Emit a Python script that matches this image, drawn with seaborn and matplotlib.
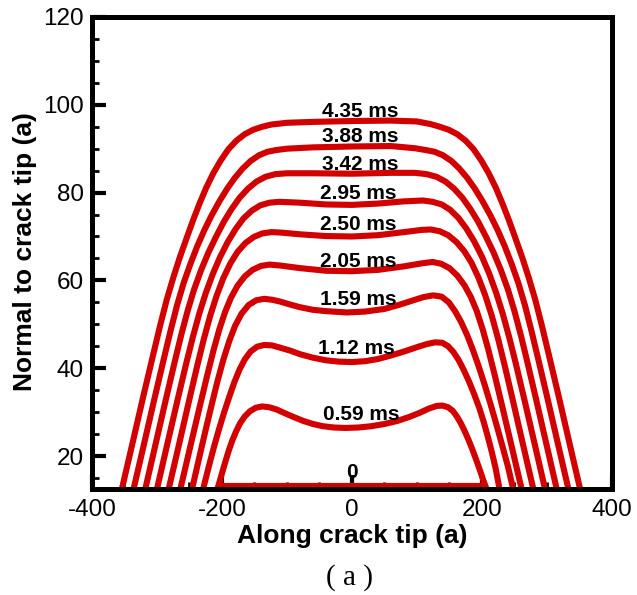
import matplotlib
matplotlib.use("Agg")
import matplotlib.pyplot as plt
from matplotlib.ticker import MultipleLocator, FixedLocator
import seaborn as sns

sns.set_theme(style="white")
plt.rcParams["font.family"] = ["Liberation Sans", "DejaVu Sans"]
plt.rcParams["text.color"] = "black"
plt.rcParams["axes.labelcolor"] = "black"

RED = "#d20000"

# Front position at each time: along crack tip (x) vs normal to crack tip (y), in units of a
x_000 = [-200, 200]
y_000 = [13.5, 13.5]

x_059 = [-207, -203, -199, -194, -189, -184, -178, -172, -165, -157, -148, -138, -127, -116,
         -104, -90, -75, -60, -45, -28, -10, 10, 30, 50, 70, 88, 105, 118, 130, 139, 148,
         155, 161, 167, 173, 179, 185, 191, 197, 202, 207]
y_059 = [12.5, 14.5, 16.6, 19.1, 21.5, 23.6, 25.7, 27.5, 29.0, 30.2, 31.0, 31.3, 31.1, 30.6,
         29.8, 28.9, 28.0, 27.3, 26.8, 26.5, 26.4, 26.5, 26.8, 27.3, 28.0, 28.9, 29.9, 30.8,
         31.4, 31.5, 31.1, 30.3, 29.1, 27.6, 25.8, 23.8, 21.6, 19.2, 16.7, 14.5, 12.5]

x_112 = [-229, -221, -213, -205, -197, -189, -181, -173, -165, -156, -146, -135, -123, -111,
         -95, -80, -60, -40, -20, 0, 20, 40, 60, 80, 100, 115, 128, 139, 148, 156, 164, 172,
         180, 188, 196, 203, 209, 215, 221, 227]
y_112 = [12.5, 17.2, 21.7, 25.9, 29.8, 33.4, 36.8, 39.7, 42.0, 43.8, 44.9, 45.3, 45.2, 44.7,
         44.0, 43.2, 42.4, 41.8, 41.5, 41.4, 41.6, 42.1, 42.9, 43.8, 44.8, 45.5, 45.9, 45.8,
         45.0, 43.7, 41.9, 39.6, 37.0, 34.1, 30.9, 27.6, 24.4, 21.0, 17.2, 12.5]

x_159 = [-246, -236, -226, -216, -207, -198, -189, -180, -170, -159, -147, -135, -123, -111,
         -95, -80, -60, -40, -8, 20, 50, 74, 95, 110, 125, 138, 149, 159, 168, 177, 186, 195,
         204, 213, 222, 231, 240, 248]
y_159 = [12.5, 19.0, 25.4, 31.6, 37.0, 41.9, 46.1, 49.6, 52.4, 54.4, 55.5, 55.8, 55.6, 55.2,
         54.5, 53.9, 53.3, 53.0, 52.7, 52.9, 53.5, 54.5, 55.5, 56.2, 56.6, 56.3, 55.0, 52.9,
         50.5, 47.6, 44.2, 40.4, 36.3, 31.9, 27.3, 22.5, 17.6, 12.5]

x_205 = [-264, -249, -235, -223, -213, -204, -195, -186, -176, -165, -153, -140, -127, -111,
         -80, -40, 0, 40, 80, 108, 124, 137, 150, 162, 173, 183, 192, 201, 210, 220, 232,
         246, 261]
y_205 = [12.5, 22.0, 30.8, 38.2, 44.1, 48.9, 52.9, 56.1, 58.8, 60.9, 62.4, 63.3, 63.6, 63.4,
         62.8, 62.2, 62.1, 62.4, 63.2, 63.9, 64.2, 63.8, 62.8, 61.1, 58.9, 56.2, 53.0, 48.9,
         44.1, 38.2, 30.8, 22.0, 12.5]

x_250 = [-282, -266, -250, -238, -228, -218, -208, -198, -187, -176, -164, -151, -138, -124,
         -110, -80, -40, 0, 40, 80, 107, 121, 135, 148, 161, 173, 184, 195, 205, 215, 225,
         235, 247, 263, 279]
y_250 = [12.5, 22.7, 33.0, 40.6, 46.6, 52.0, 56.6, 60.5, 63.9, 66.5, 68.5, 69.9, 70.7, 71.0,
         70.9, 70.5, 70.1, 70.0, 70.3, 71.0, 71.5, 71.6, 71.2, 70.3, 68.7, 66.6, 64.0, 60.5,
         56.6, 52.0, 46.6, 40.6, 33.0, 22.7, 12.5]

x_295 = [-300, -284, -268, -255, -245, -235, -225, -214, -203, -191, -179, -167, -154, -141,
         -127, -112, -80, -40, 0, 40, 80, 109, 124, 138, 151, 164, 176, 188, 200, 211, 222,
         232, 242, 252, 265, 281, 297]
y_295 = [12.5, 22.8, 33.0, 41.1, 47.0, 52.4, 57.1, 61.5, 65.3, 68.8, 71.7, 74.1, 75.9, 77.1,
         77.7, 77.9, 77.7, 77.3, 77.2, 77.5, 78.0, 78.2, 77.9, 77.3, 76.1, 74.2, 71.8, 68.9,
         65.4, 61.6, 57.1, 52.4, 47.0, 41.1, 33.0, 22.8, 12.5]

x_342 = [-318, -302, -286, -273, -263, -253, -243, -232, -221, -209, -197, -185, -173, -160,
         -147, -133, -118, -100, -60, 0, 60, 97, 115, 130, 144, 157, 170, 182, 194, 206, 218,
         229, 240, 250, 260, 270, 283, 299, 315]
y_342 = [12.5, 22.8, 33.1, 41.3, 47.4, 53.0, 57.9, 62.4, 66.3, 70.0, 73.4, 76.3, 78.8, 80.9,
         82.5, 83.6, 84.2, 84.4, 84.4, 84.3, 84.5, 84.5, 84.2, 83.6, 82.5, 80.9, 78.8, 76.3,
         73.4, 70.0, 66.3, 62.4, 57.9, 53.0, 47.4, 41.3, 33.1, 22.8, 12.5]

x_388 = [-336, -320, -304, -290, -279, -269, -259, -249, -238, -227, -216, -204, -192, -180,
         -168, -156, -143, -130, -116, -100, -60, 0, 60, 97, 113, 127, 140, 153, 165, 177,
         189, 201, 213, 224, 235, 246, 256, 266, 276, 287, 301, 317, 333]
y_388 = [12.5, 22.7, 33.0, 41.8, 48.6, 54.4, 59.4, 63.6, 67.8, 71.5, 74.8, 78.0, 80.9, 83.4,
         85.5, 87.2, 88.5, 89.3, 89.7, 90.0, 90.3, 90.5, 90.6, 90.1, 89.7, 89.3, 88.5, 87.2,
         85.5, 83.4, 80.9, 78.0, 74.8, 71.5, 67.8, 63.6, 59.4, 54.4, 48.6, 41.8, 33.0, 22.7,
         12.5]

x_435 = [-354, -338, -322, -306, -295, -285, -275, -265, -254, -244, -234, -224, -213, -202,
         -190, -178, -165, -152, -138, -124, -100, -60, 0, 60, 100, 121, 135, 149, 162, 175,
         187, 199, 210, 221, 231, 241, 251, 262, 272, 282, 292, 303, 319, 335, 351]
y_435 = [12.5, 22.7, 33.0, 43.0, 49.8, 55.6, 60.6, 65.2, 69.8, 73.9, 77.7, 81.2, 84.5, 87.3,
         89.9, 91.8, 93.3, 94.3, 95.0, 95.5, 95.9, 96.1, 96.3, 96.4, 96.2, 95.6, 95.0, 94.3,
         93.3, 91.8, 89.9, 87.3, 84.5, 81.2, 77.7, 73.9, 69.8, 65.2, 60.6, 55.6, 49.8, 43.0,
         33.0, 22.7, 12.5]

fronts = [(x_059, y_059), (x_112, y_112), (x_159, y_159), (x_205, y_205), (x_250, y_250),
          (x_295, y_295), (x_342, y_342), (x_388, y_388), (x_435, y_435)]

# Time labels and where they sit
time_labels = ["0", "0.59 ms", "1.12 ms", "1.59 ms", "2.05 ms", "2.50 ms",
               "2.95 ms", "3.42 ms", "3.88 ms", "4.35 ms"]
label_x = [0, 15, 7, 9, 9, 9, 9, 12, 12, 12]
label_y = [16.3, 29.5, 44.5, 55.7, 64.4, 72.7, 79.9, 86.4, 92.8, 98.5]

x_ticks = [-400, -200, 0, 200, 400]
y_ticks = [20, 40, 60, 80, 100, 120]

fig = plt.figure(figsize=(6.37, 5.95), dpi=100)
ax = fig.add_axes([0.1444, 0.1782, 0.8163, 0.7933])

sns.lineplot(x=x_000, y=y_000, sort=False, estimator=None, color=RED,
             linewidth=3.0, ax=ax)
for xs, ys in fronts:
    sns.lineplot(x=xs, y=ys, sort=False, estimator=None, color=RED,
                 linewidth=4.4, ax=ax, solid_joinstyle="round")

for s, tx, ty in zip(time_labels, label_x, label_y):
    ax.text(tx, ty, s, ha="center", va="center", fontsize=15,
            fontweight="bold", color="black", zorder=5)

ax.set_xlim(-400, 400)
ax.set_ylim(12.5, 120)
ax.xaxis.set_major_locator(FixedLocator(x_ticks))
ax.yaxis.set_major_locator(FixedLocator(y_ticks))
ax.xaxis.set_minor_locator(MultipleLocator(50))
ax.yaxis.set_minor_locator(MultipleLocator(5))
ax.set_xticklabels([str(v) for v in x_ticks])
ax.set_yticklabels([str(v) for v in y_ticks])

ax.tick_params(which="major", direction="in", length=10, width=3,
               color="black", labelsize=17.5, labelcolor="black",
               top=False, right=False, bottom=True, left=True)
ax.tick_params(axis="x", which="major", pad=7)
ax.tick_params(axis="y", which="major", pad=6)
ax.tick_params(which="minor", direction="in", length=5, width=2,
               color="black", top=False, right=False, bottom=True, left=True)

for sp in ax.spines.values():
    sp.set_linewidth(3.6)
    sp.set_color("black")
    sp.set_visible(True)

ax.set_xlabel("Along crack tip (a)", fontsize=19, fontweight="bold", color="black")
ax.set_ylabel("Normal to crack tip (a)", fontsize=19, fontweight="bold", color="black")
ax.xaxis.set_label_coords(0.5, -0.074)
ax.yaxis.set_label_coords(-0.106, 0.502)
ax.grid(False)

fig.text(0.549, 1 - 578 / 595, "( a )", family="Liberation Serif",
         fontsize=21, ha="center", va="center", color="black")

fig.savefig("out.png", dpi=100)
